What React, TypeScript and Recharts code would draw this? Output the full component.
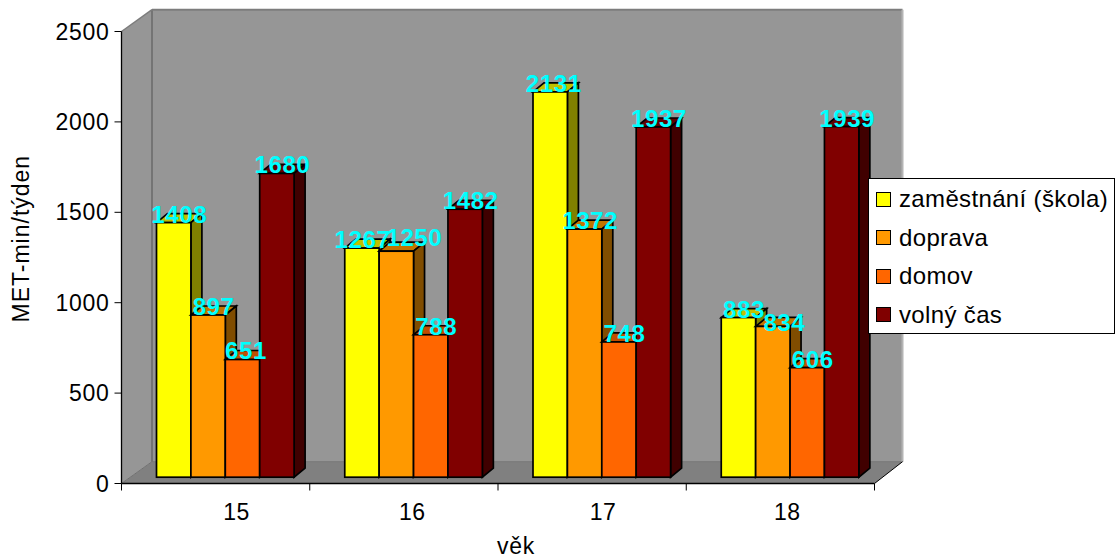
import React from "react";
import { BarChart, Bar, XAxis, YAxis, CartesianGrid, ReferenceArea, LabelList, Legend } from "recharts";

const ages = ["15", "16", "17", "18"];
const work = [1408, 1267, 2131, 883];
const transport = [897, 1250, 1372, 834];
const home = [651, 788, 748, 606];
const leisure = [1680, 1482, 1937, 1939];
const valueTicks = [0, 500, 1000, 1500, 2000, 2500];

const seriesList = [
  { key: "work", name: "zaměstnání (škola)", fill: "#ffff00", top: "#c0c000", side: "#808000" },
  { key: "transport", name: "doprava", fill: "#ff9900", top: "#c07400", side: "#804d00" },
  { key: "home", name: "domov", fill: "#ff6600", top: "#c04d00", side: "#803300" },
  { key: "leisure", name: "volný čas", fill: "#800000", top: "#600000", side: "#400000" },
];

const rows = ages.map((age, i) => ({
  age,
  work: work[i],
  transport: transport[i],
  home: home[i],
  leisure: leisure[i],
}));

const FONT = '"Liberation Sans", Arial, sans-serif';

// Oblique projection of the chart box and of the bars standing in it
const WALL_DX = 30.5;
const WALL_DY = -21.8;
const WALL_RIGHT_DX = 28;
const BAR_SHIFT_X = 10;
const BAR_SHIFT_Y = -6.3;
const BAR_DX = 11;
const BAR_DY = -9;

// Hand-placed data labels that would otherwise sit on top of each other
const labelNudges: Record<string, [number, number]> = {
  "work-1": [-5, 0],
  "transport-1": [12.5, -5],
  "transport-3": [6, 4.5],
  "work-2": [-2, 0],
  "home-0": [-2, 0],
};

// Offsets of the category captions from the band centres
const captionNudges = [21, 8.5, 11, 7];

const Walls = (props: any) => {
  const { x, y, width, height } = props;
  const b = y + height;
  const r = x + width;
  const bx = x + WALL_DX;
  const by = y + WALL_DY;
  const fy = b + WALL_DY;
  return (
    <g>
      <polygon points={`${bx},${by} ${r + WALL_RIGHT_DX},${by} ${r + WALL_RIGHT_DX},${fy} ${bx},${fy}`} fill="#969696" />
      <polygon points={`${x},${y} ${bx},${by} ${bx},${fy} ${x},${b}`} fill="#969696" />
      <polygon points={`${x},${b} ${bx},${fy} ${r + WALL_RIGHT_DX},${fy} ${r},${b}`} fill="#808080" />
      <line x1={bx} y1={by} x2={bx} y2={fy} stroke="#747474" strokeWidth={2} />
      <line x1={bx} y1={by} x2={r + WALL_RIGHT_DX} y2={by} stroke="#7c7c7c" strokeWidth={2} />
      <line x1={bx} y1={fy} x2={r + WALL_RIGHT_DX} y2={fy} stroke="#747474" strokeWidth={1} />
      <line x1={r + WALL_RIGHT_DX} y1={by} x2={r + WALL_RIGHT_DX} y2={fy} stroke="#b4b4b4" strokeWidth={2} />
      <line x1={x} y1={y} x2={bx} y2={by} stroke="#7c7c7c" strokeWidth={1.5} />
      <line x1={r} y1={b} x2={r + WALL_RIGHT_DX} y2={fy} stroke="#000000" strokeWidth={1} />
      <line x1={x} y1={b} x2={bx} y2={fy} stroke="#707070" strokeWidth={1} />
    </g>
  );
};

const gridLine = (props: any) => {
  const { x1, x2, y1, index } = props;
  const by = y1 + WALL_DY;
  // The floor and the top rim of the box are drawn with the walls
  if (y1 > 480 || y1 < 35) return <g key={index} />;
  return (
    <g key={index}>
      <line x1={x1} y1={y1} x2={x1 + WALL_DX} y2={by} stroke="#111111" strokeWidth={1} />
      <line x1={x1 + WALL_DX} y1={by} x2={x2 + WALL_RIGHT_DX} y2={by} stroke="#2b2b2b" strokeWidth={1} />
    </g>
  );
};

const makeBox = (top: string, side: string) => (props: any) => {
  const { x, y, width, height, fill } = props;
  const l = x + BAR_SHIFT_X;
  const r = l + width;
  const t = y + BAR_SHIFT_Y;
  const b = t + height;
  return (
    <g stroke="#000000" strokeWidth={1.7} strokeLinejoin="miter">
      <polygon points={`${l},${t} ${l + BAR_DX},${t + BAR_DY} ${r + BAR_DX},${t + BAR_DY} ${r},${t}`} fill={top} />
      <polygon points={`${r},${t} ${r + BAR_DX},${t + BAR_DY} ${r + BAR_DX},${b + BAR_DY} ${r},${b}`} fill={side} />
      <rect x={l} y={t} width={width} height={height} fill={fill} />
    </g>
  );
};

const makeValueLabel = (seriesKey: string) => (props: any) => {
  const { x, y, width, value, index } = props;
  const [nx, ny] = labelNudges[`${seriesKey}-${index}`] || [0, 0];
  return (
    <text
      x={x + width / 2 + BAR_SHIFT_X + 5.5 + nx}
      y={y + BAR_SHIFT_Y + ny}
      textAnchor="middle"
      fill="#00ffff"
      fontFamily={FONT}
      fontWeight="bold"
      fontSize={24}
      letterSpacing={0.6}
    >
      {value}
    </text>
  );
};

const BAND = 188.25;

const AgeTick = (props: any) => {
  const { x, y, payload, index } = props;
  return (
    <g>
      <line x1={x - BAND / 2} y1={y - 8} x2={x - BAND / 2} y2={y - 1} stroke="#000000" />
      {index === ages.length - 1 && (
        <line x1={x + BAND / 2} y1={y - 8} x2={x + BAND / 2} y2={y - 1} stroke="#000000" />
      )}
      <text x={x + captionNudges[index]} y={y + 28} textAnchor="middle" fill="#000000" fontFamily={FONT} fontSize={23} letterSpacing={0.7}>
        {payload.value}
      </text>
    </g>
  );
};

const LegendBox = () => (
  <div
    style={{
      width: 245,
      height: 154,
      border: "1px solid #000000",
      background: "#ffffff",
      fontFamily: FONT,
      fontSize: 24,
      letterSpacing: 0.35,
      color: "#000000",
    }}
  >
    {seriesList.map((s, i) => (
      <div key={s.key} style={{ position: "absolute", left: 8, top: 13 + i * 38.5, height: 16, display: "flex", alignItems: "center", whiteSpace: "nowrap" }}>
        <span style={{ display: "inline-block", width: 13, height: 13, border: "1.5px solid #000000", background: s.fill, marginRight: 8 }} />
        <span>{s.name}</span>
      </div>
    ))}
  </div>
);

export default function App() {
  return (
    <div style={{ position: "absolute", left: 0, top: 0 }}>
      <BarChart
        width={1115}
        height={556}
        data={rows}
        margin={{ top: 31.5, right: 0, bottom: 0, left: 0 }}
        barGap={0}
        barSize={34.4}
      >
        <ReferenceArea y1={0} y2={2500} shape={<Walls />} fill="none" stroke="none" />
        <CartesianGrid vertical={false} horizontal={gridLine} />
        <XAxis
          dataKey="age"
          height={72.5}
          interval={0}
          tickLine={false}
          axisLine={{ stroke: "#000000", strokeWidth: 1.3 }}
          tick={<AgeTick />}
          label={{ value: "věk", position: "insideBottom", offset: 2, dx: 18, fill: "#000000", fontFamily: FONT, fontSize: 23, letterSpacing: 0.7 }}
        />
        <YAxis
          width={121.5}
          domain={[0, 2500]}
          ticks={valueTicks}
          interval={0}
          tickSize={7}
          tickMargin={5}
          tickLine={{ stroke: "#000000" }}
          axisLine={{ stroke: "#000000", strokeWidth: 1.3 }}
          tick={{ fill: "#000000", fontFamily: FONT, fontSize: 23, letterSpacing: 0.7 }}
          label={{ value: "MET-min/týden", angle: -90, position: "insideLeft", dx: 16, dy: 65, fill: "#000000", fontFamily: FONT, fontSize: 23, letterSpacing: 1 }}
        />
        <Legend
          layout="vertical"
          verticalAlign="top"
          align="right"
          content={<LegendBox />}
          wrapperStyle={{ position: "absolute", left: 868, top: 178, width: 240.5, height: 156 }}
        />
        {seriesList.map((s) => (
          <Bar
            key={s.key}
            dataKey={s.key}
            name={s.name}
            fill={s.fill}
            isAnimationActive={false}
            shape={makeBox(s.top, s.side)}
          >
            <LabelList dataKey={s.key} content={makeValueLabel(s.key)} />
          </Bar>
        ))}
      </BarChart>
    </div>
  );
}
